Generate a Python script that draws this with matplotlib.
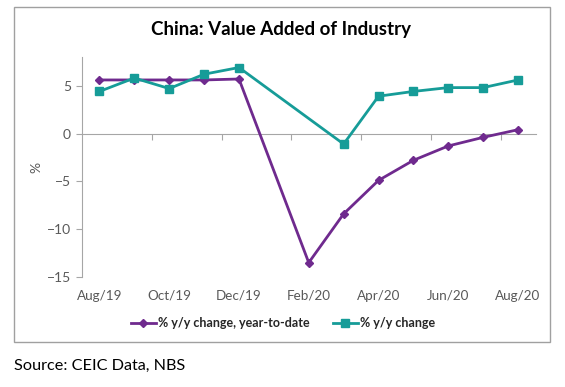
import numpy as np
import matplotlib
matplotlib.use("Agg")
import matplotlib.pyplot as plt
from matplotlib.patches import Rectangle

months = ["Aug/19", "Sep/19", "Oct/19", "Nov/19", "Dec/19", "Jan/20", "Feb/20",
          "Mar/20", "Apr/20", "May/20", "Jun/20", "Jul/20", "Aug/20"]
ytd = [5.6, 5.6, 5.6, 5.6, 5.7, np.nan, -13.5, -8.4, -4.9, -2.8, -1.3, -0.4, 0.4]
yoy = [4.4, 5.8, 4.7, 6.2, 6.9, np.nan, np.nan, -1.1, 3.9, 4.4, 4.8, 4.8, 5.6]
yticks = [-15, -10, -5, 0, 5]

purple = "#6F2A8E"
teal = "#169C98"
grey_txt = "#595959"
axis_col = "#A6A6A6"

plt.rcParams['font.family'] = ['Lato', 'DejaVu Sans']

fig = plt.figure(figsize=(5.65, 3.87), dpi=100)
fig.patches.append(Rectangle((14/565, 1-342/387), 536/565, 335/387,
                             transform=fig.transFigure, fill=False,
                             edgecolor="#A0A0A0", linewidth=1.0))

ax = fig.add_axes([82/565, 1-277/387, (535.5-82)/565, (277-57)/387])
x = np.arange(len(months))
ytd_a = np.array(ytd, dtype=float)
yoy_a = np.array(yoy, dtype=float)
m1 = ~np.isnan(ytd_a)
m2 = ~np.isnan(yoy_a)
ax.plot(x[m1], ytd_a[m1], color=purple, lw=2.0, marker="D", ms=4.5,
        label="% y/y change, year-to-date", zorder=3)
ax.plot(x[m2], yoy_a[m2], color=teal, lw=2.0, marker="s", ms=6,
        label="% y/y change", zorder=3)

ax.set_xlim(-0.5, len(months) - 0.5)
ax.set_ylim(-15, 8)
ax.set_yticks(yticks)
ax.tick_params(axis='y', direction='out', length=4, color=axis_col,
               labelcolor=grey_txt, labelsize=10, pad=4)
for s in ["top", "right"]:
    ax.spines[s].set_visible(False)
ax.spines["left"].set_color(axis_col)
ax.spines["left"].set_bounds(-15, 8)
ax.spines["bottom"].set_position(("data", 0))
ax.spines["bottom"].set_color(axis_col)
ax.set_xticks(np.arange(1.5, len(months) - 1, 2))
ax.set_xticklabels([])
ax.tick_params(axis='x', direction='out', length=4, color=axis_col)

sec = ax.secondary_xaxis('bottom')
sec.spines["bottom"].set_visible(False)
sec.set_xticks(x[::2])
sec.set_xticklabels(months[::2])
sec.tick_params(axis='x', length=0, pad=9, labelcolor=grey_txt, labelsize=9.7)

ax.set_ylabel("%", color=grey_txt, fontsize=10, labelpad=3)

fig.text(281/565, 1-30/387, "China: Value Added of Industry", ha="center",
         va="center", fontsize=13.5, fontweight="bold", color="#000000")

fig.legend(loc="center", bbox_to_anchor=(283/565, 1-323/387), ncol=2,
           frameon=False, handlelength=2.0, columnspacing=1.8, handletextpad=0.2,
           prop={"size": 9, "weight": "bold"}, labelcolor="#262626")

fig.text(14/565, 1-366/387, "Source: CEIC Data, NBS", ha="left", va="center",
         fontsize=11.7, color="#000000")

fig.savefig("out.png", dpi=100)
